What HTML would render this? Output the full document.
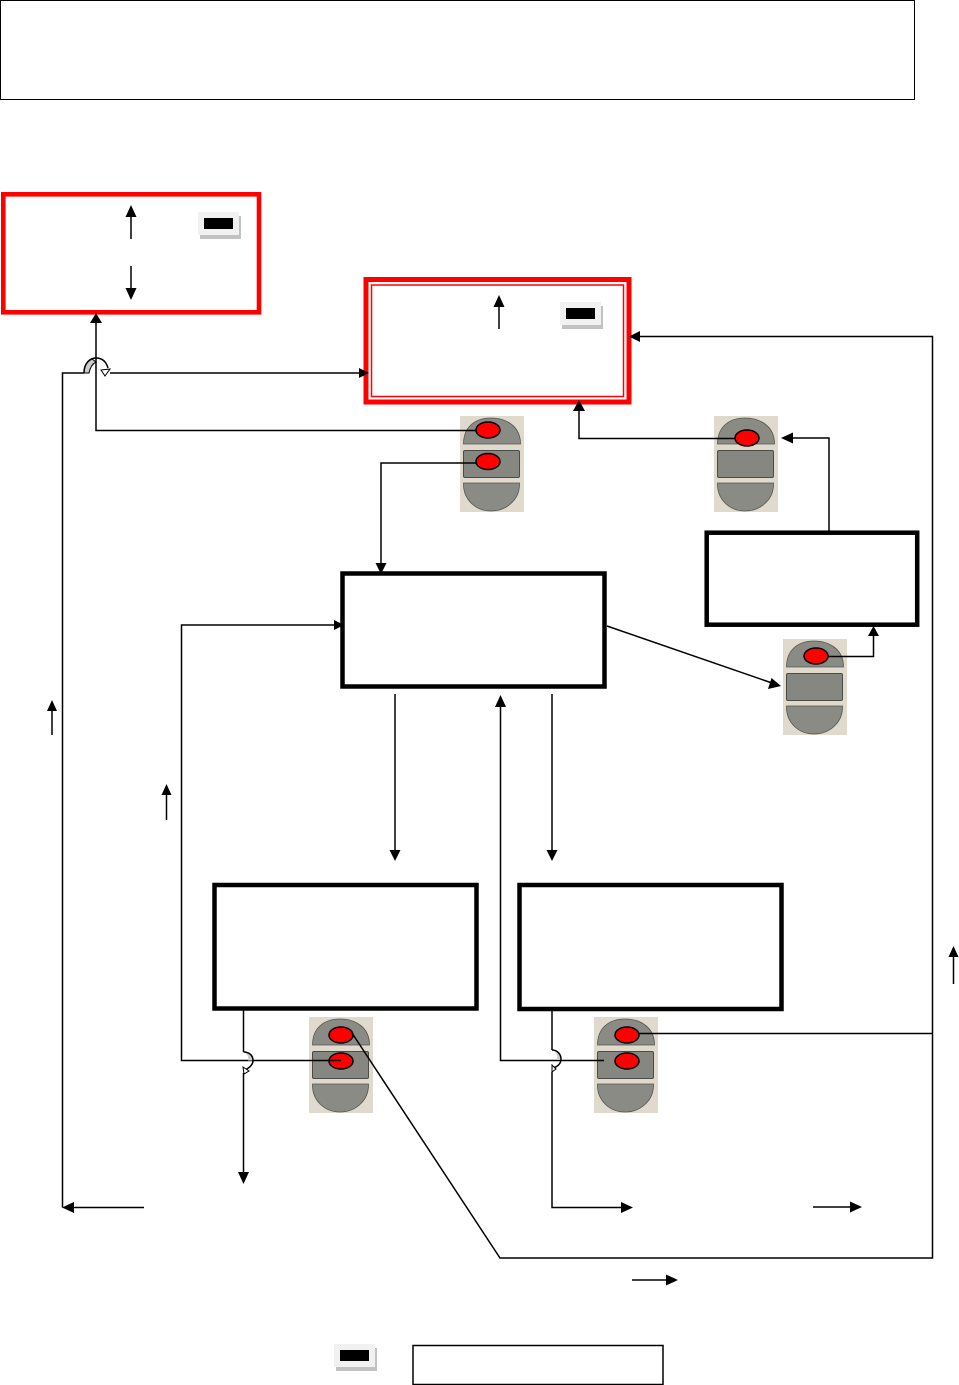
<!DOCTYPE html>
<html><head><meta charset="utf-8"><style>html,body{margin:0;padding:0;background:#fff}svg{display:block}</style></head>
<body>
<svg xmlns="http://www.w3.org/2000/svg" width="959" height="1385" viewBox="0 0 959 1385">
<defs>
<g id="kp">
<rect x="0" y="0" width="64" height="96" fill="#e0d9cd"/>
<path d="M3.500 28 C3.500 10 16 2 31 2 C46 2 60.500 10 60.500 28 Z" fill="#8b8b85" stroke="#55554f" stroke-width="0.800"/>
<rect x="3.500" y="34.500" width="56" height="27" rx="1.500" fill="#878781" stroke="#4a4a46" stroke-width="1"/>
<path d="M3.500 67 L59.500 67 C60 84 46 95 31 95 C16 95 3 84 3.500 67 Z" fill="#8b8b85" stroke="#55554f" stroke-width="0.800"/>
</g>
<g id="bt">
<rect x="2" y="4" width="41" height="23" fill="#c2c2c2"/>
<rect x="0" y="0" width="41" height="23" fill="#f1f1f1"/>
<rect x="6" y="6" width="29" height="11" fill="#000"/>
</g>
</defs>
<rect width="959" height="1385" fill="#fff"/>

<!-- title box -->
<rect x="0.500" y="0.500" width="914" height="99" fill="#fff" stroke="#000" stroke-width="1"/>

<!-- red boxes -->
<rect x="3.300" y="194.300" width="255.700" height="118" fill="#fff" stroke="#f00" stroke-width="4.600"/>
<rect x="366" y="279.500" width="263" height="122.500" fill="#fff" stroke="#f00" stroke-width="5"/>
<rect x="371.500" y="285" width="252" height="111.500" fill="none" stroke="#f00" stroke-width="1.500"/>

<!-- black boxes -->
<rect x="342.500" y="573.500" width="262" height="113" fill="#fff" stroke="#000" stroke-width="4.500"/>
<rect x="706.700" y="532.700" width="210.500" height="92" fill="#fff" stroke="#000" stroke-width="4.500"/>
<rect x="214.500" y="885" width="262" height="123.500" fill="#fff" stroke="#000" stroke-width="4.500"/>
<rect x="519.500" y="885" width="262" height="124" fill="#fff" stroke="#000" stroke-width="4.500"/>
<rect x="413" y="1345.500" width="250" height="39" fill="#fff" stroke="#000" stroke-width="1.500"/>

<!-- keypads -->
<use href="#kp" x="460" y="416"/>
<use href="#kp" x="714" y="416"/>
<use href="#kp" x="783" y="639"/>
<use href="#kp" x="309" y="1017"/>
<use href="#kp" x="594" y="1017"/>

<!-- buttons -->
<use href="#bt" x="198" y="212"/>
<use href="#bt" x="560" y="302"/>
<use href="#bt" x="334" y="1344"/>

<!-- ovals -->
<g fill="#f00" stroke="#000" stroke-width="1.500">
<ellipse cx="488" cy="430" rx="12" ry="8"/>
<ellipse cx="488" cy="461.500" rx="12" ry="8"/>
<ellipse cx="747" cy="438" rx="12" ry="8"/>
<ellipse cx="816" cy="656" rx="12" ry="8"/>
<ellipse cx="341" cy="1035" rx="12" ry="8"/>
<ellipse cx="341" cy="1061" rx="12" ry="8"/>
<ellipse cx="627" cy="1035" rx="12" ry="8"/>
<ellipse cx="627" cy="1061" rx="12" ry="8"/>
</g>

<!-- connectors -->
<g fill="none" stroke="#000" stroke-width="1.500">
<path d="M96 322 V430.500 H476"/>
<path d="M62.500 1207.500 V373 H84"/>
<path d="M110 373 H360"/>
<path d="M476 463 H381 V565"/>
<path d="M735 438.500 H579 V408"/>
<path d="M829 531 V438 H790"/>
<path d="M828 656.500 H873.500 V633"/>
<path d="M607 626 L772 683"/>
<path d="M395 694 V852"/>
<path d="M552 694 V852"/>
<path d="M500.500 704 V1060.500 H604"/>
<path d="M336 625 H181.500 V1060.500 H341"/>
<path d="M243.500 1008 V1052"/>
<path d="M243.500 1073 V1175"/>
<path d="M552 1009 V1050"/>
<path d="M552 1072 V1207.500 H624"/>
<path d="M144 1207.500 H70"/>
<path d="M813 1207 H853"/>
<path d="M632 1280 H669"/>
<path d="M352 1033 L500 1258 H932.500 V336.500 H638"/>
<path d="M639 1033.500 H932.500"/>
<path d="M131 239 V212"/>
<path d="M131 266 V293"/>
<path d="M499 329 V303"/>
<path d="M52 735 V708"/>
<path d="M166.500 820 V792"/>
<path d="M953.500 984 V954"/>
</g>

<!-- arrowheads -->
<g fill="#000">
<polygon points="96,313 90,323 102,323"/>
<polygon points="369,373 359,368 359,378"/>
<polygon points="381,574 375.500,563 386.500,563"/>
<polygon points="579,400 573,411 585,411"/>
<polygon points="781,438 793,432.500 793,443.500"/>
<polygon points="873.500,626 868,636 879,636"/>
<polygon points="781,686 768,689 771.500,678"/>
<polygon points="395,861 389.500,850 400.500,850"/>
<polygon points="552,861 546.500,850 557.500,850"/>
<polygon points="500.500,695 495,707 506,707"/>
<polygon points="344,625 334,620 334,630"/>
<polygon points="243.500,1184 238,1172 249,1172"/>
<polygon points="62,1207.500 74,1202 74,1213"/>
<polygon points="633,1207.500 621,1202 621,1213"/>
<polygon points="862,1207 850,1201.500 850,1212.500"/>
<polygon points="678,1280 666,1274.500 666,1285.500"/>
<polygon points="629,336.500 640,331 640,342"/>
<polygon points="131,205 125.500,217 136.500,217"/>
<polygon points="131,300 125.500,288 136.500,288"/>
<polygon points="499,295 493.500,307 504.500,307"/>
<polygon points="52,700 47,711 57,711"/>
<polygon points="166.500,784 161.500,795 171.500,795"/>
<polygon points="953.500,946 948.500,957 958.500,957"/>
</g>

<!-- line-jump hops -->
<path d="M84 373 C84 365 88 361 92 359 L96 362 C92 364 90 368 89 373 Z" fill="#ccc" stroke="#000" stroke-width="1"/>
<path d="M84 373 C84 363 90 358 96 358 C102 358 106 361 108 368" fill="none" stroke="#000" stroke-width="1.500"/>
<path d="M101 370 L110 369 L105 376 Z" fill="#fff" stroke="#000" stroke-width="1"/>
<path d="M243.500 1052 C247 1053 249 1057 248 1060.500 L252 1060.500 C253 1056 249 1052 243.500 1052 Z" fill="#ccc" stroke="none"/>
<path d="M243.500 1052 C250 1052 253 1056 253 1060.500 C253 1065 249 1068 245 1070" fill="none" stroke="#000" stroke-width="1.500"/>
<path d="M243 1067 L249 1071 L244 1074 Z" fill="#fff" stroke="#000" stroke-width="1"/>
<path d="M552 1050 C556 1051 558 1055 557 1060 L561 1060 C561 1055 557 1050 552 1050 Z" fill="#ccc" stroke="none"/>
<path d="M552 1050 C558 1050 561 1055 561 1059 C561 1064 557 1067 553 1068" fill="none" stroke="#000" stroke-width="1.500"/>
<path d="M552 1065 L556 1069 L552 1072 Z" fill="#fff" stroke="#000" stroke-width="1"/>
</svg>
</body></html>
